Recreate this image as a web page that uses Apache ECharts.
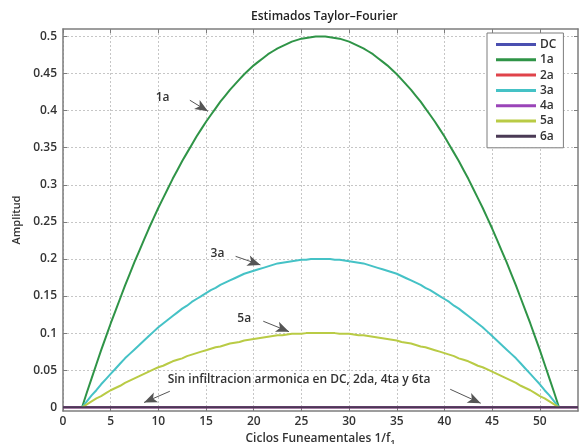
<!DOCTYPE html>
<html>
<head>
<meta charset="utf-8">
<style>
  html, body { margin: 0; padding: 0; background: #fff; }
  #chart { width: 579px; height: 444px; }
</style>
<script src="https://cdn.jsdelivr.net/npm/echarts@6/dist/echarts.min.js"></script>
</head>
<body>
<div id="chart"></div>
<script>
// Cycles of the fundamental where the odd harmonics are estimated
const harmonicCycles = [2,2.5,3,3.5,4,4.5,5,5.5,6,6.5,7,7.5,8,8.5,9,9.5,10,10.5,11,11.5,12,12.5,13,13.5,14,14.5,
  15,15.5,16,16.5,17,17.5,18,18.5,19,19.5,20,20.5,21,21.5,22,22.5,23,23.5,24,24.5,25,25.5,26,26.5,27,
  27.5,28,28.5,29,29.5,30,30.5,31,31.5,32,32.5,33,33.5,34,34.5,35,35.5,36,36.5,37,37.5,38,38.5,39,39.5,
  40,40.5,41,41.5,42,42.5,43,43.5,44,44.5,45,45.5,46,46.5,47,47.5,48,48.5,49,49.5,50,50.5,51,51.5,52];

// Cycles spanned by the components that stay at zero
const zeroCycles = [0, 54];

const ampDC = [0, 0];
const amp2a = [0, 0];
const amp4a = [0, 0];
const amp6a = [0, 0];

const amp1a = [0,0.020,0.039,0.058,0.077,0.095,0.113,0.130,0.147,0.164,0.180,0.196,0.211,0.226,0.241,0.255,0.269,0.282,0.295,0.308,
  0.320,0.332,0.343,0.354,0.365,0.375,0.385,0.394,0.403,0.412,0.420,0.428,0.435,0.442,0.449,0.455,0.461,0.466,0.471,0.476,
  0.480,0.484,0.487,0.490,0.493,0.495,0.497,0.498,0.499,0.500,0.500,
  0.500,0.499,0.498,0.497,0.495,0.493,0.490,0.487,0.484,0.480,0.476,0.471,0.466,0.461,0.455,0.449,0.442,0.435,0.428,0.420,
  0.412,0.403,0.394,0.385,0.375,0.365,0.354,0.343,0.332,0.320,0.308,0.295,0.282,0.269,0.255,0.241,0.226,0.211,0.196,0.180,
  0.164,0.147,0.130,0.113,0.095,0.077,0.058,0.039,0.020,0];

const amp3a = [0,0.008,0.016,0.023,0.031,0.038,0.045,0.052,0.059,0.066,0.072,0.078,0.084,0.090,0.096,0.102,0.108,0.113,0.118,0.123,
  0.128,0.133,0.137,0.142,0.146,0.150,0.154,0.158,0.161,0.165,0.168,0.171,0.174,0.177,0.180,0.182,0.184,0.186,0.188,0.190,
  0.192,0.194,0.195,0.196,0.197,0.198,0.199,0.199,0.200,0.200,0.200,
  0.200,0.200,0.199,0.199,0.198,0.197,0.196,0.195,0.194,0.192,0.190,0.188,0.186,0.184,0.182,0.180,0.177,0.174,0.171,0.168,
  0.165,0.161,0.158,0.154,0.150,0.146,0.142,0.137,0.133,0.128,0.123,0.118,0.113,0.108,0.102,0.096,0.090,0.084,0.078,0.072,
  0.066,0.059,0.052,0.045,0.038,0.031,0.023,0.016,0.008,0];

const amp5a = [0,0.004,0.008,0.012,0.015,0.019,0.023,0.026,0.029,0.033,0.036,0.039,0.042,0.045,0.048,0.051,0.054,0.056,0.059,0.062,
  0.064,0.066,0.069,0.071,0.073,0.075,0.077,0.079,0.081,0.082,0.084,0.086,0.087,0.088,0.090,0.091,0.092,0.093,0.094,0.095,
  0.096,0.097,0.097,0.098,0.099,0.099,0.099,0.100,0.100,0.100,0.100,
  0.100,0.100,0.100,0.099,0.099,0.099,0.098,0.097,0.097,0.096,0.095,0.094,0.093,0.092,0.091,0.090,0.088,0.087,0.086,0.084,
  0.082,0.081,0.079,0.077,0.075,0.073,0.071,0.069,0.066,0.064,0.062,0.059,0.056,0.054,0.051,0.048,0.045,0.042,0.039,0.036,
  0.033,0.029,0.026,0.023,0.019,0.015,0.012,0.008,0.004,0];

const seriesNames = ['DC', '1a', '2a', '3a', '4a', '5a', '6a'];
const seriesX = [zeroCycles, harmonicCycles, zeroCycles, harmonicCycles, zeroCycles, harmonicCycles, zeroCycles];
const seriesValues = [ampDC, amp1a, amp2a, amp3a, amp4a, amp5a, amp6a];
const seriesColors = ['#4a4fb0', '#2f9447', '#e0434a', '#45c2c6', '#9a44b8', '#b9cb45', '#4a3a55'];

const xTicks = [0, 5, 10, 15, 20, 25, 30, 35, 40, 45, 50];
const yTicks = [0, 0.05, 0.1, 0.15, 0.2, 0.25, 0.3, 0.35, 0.4, 0.45, 0.5];

const FONT = '"Open Sans", "Noto Sans", sans-serif';
const axisGray = '#7d7d7d';
const gridStyle = { color: '#c6c6c6', type: [2, 2], width: 1 };

const chart = echarts.init(document.getElementById('chart'), null, { renderer: 'canvas' });

const lineSeries = seriesNames.map((name, i) => ({
  name: name,
  type: 'line',
  xAxisIndex: 0,
  yAxisIndex: 0,
  data: seriesX[i].map((c, k) => [c, seriesValues[i][k]]),
  showSymbol: false,
  symbol: 'none',
  smooth: false,
  lineStyle: { width: 2, color: seriesColors[i] },
  itemStyle: { color: seriesColors[i] },
  z: 3,
  silent: true,
  animation: false
}));

const arrowLine = { color: '#555', width: 1, type: 'solid' };
const annoLabel = { show: true, fontFamily: FONT, fontSize: 12, fontWeight: 600, color: '#333' };

// Helper series holding the annotation arrows and texts
lineSeries.push({
  name: 'notes',
  type: 'line',
  data: [],
  silent: true,
  animation: false,
  markLine: {
    silent: true,
    animation: false,
    symbol: ['none', 'arrow'],
    symbolSize: [8, 13],
    label: { show: false },
    lineStyle: arrowLine,
    itemStyle: { color: '#111' },
    emphasis: { disabled: true },
    data: [
      [{ coord: [13.3, 0.414] }, { coord: [15.2, 0.399] }],
      [{ coord: [18.1, 0.2035] }, { coord: [20.7, 0.192] }],
      [{ coord: [21.0, 0.116] }, { coord: [23.7, 0.102] }],
      [{ coord: [11.2, 0.0216] }, { coord: [8.5, 0.0065] }],
      [{ coord: [40.6, 0.0243] }, { coord: [43.8, 0.0055] }]
    ]
  },
  markPoint: {
    silent: true,
    animation: false,
    symbol: 'circle',
    symbolSize: 1,
    itemStyle: { color: 'rgba(0,0,0,0)' },
    label: Object.assign({ position: 'inside' }, annoLabel),
    data: [
      { coord: [10.45, 0.418], label: Object.assign({ formatter: '1a' }, annoLabel) },
      { coord: [16.2, 0.2075], label: Object.assign({ formatter: '3a' }, annoLabel) },
      { coord: [19.0, 0.12], label: Object.assign({ formatter: '5a' }, annoLabel) },
      { coord: [24.75, 0.0375], label: Object.assign({ formatter: 'Sin infiltracion armonica en DC, 2da, 4ta y 6ta' }, annoLabel) }
    ]
  }
});

chart.setOption({
  animation: false,
  backgroundColor: '#ffffff',
  title: {
    text: 'Estimados Taylor\u2013Fourier',
    left: 246,
    top: 6,
    textStyle: { fontFamily: FONT, fontSize: 12, fontWeight: 600, color: '#222' }
  },
  grid: { left: 63, top: 29, right: 1, bottom: 33, containLabel: false, outerBoundsMode: 'none' },
  legend: {
    orient: 'vertical',
    left: 487,
    top: 33,
    padding: [4, 7, 4, 9],
    itemGap: 0.3,
    itemWidth: 40,
    itemHeight: 3,
    icon: 'rect',
    backgroundColor: '#ffffff',
    borderColor: '#7d7d7d',
    borderWidth: 1,
    borderRadius: 0,
    data: seriesNames,
    textStyle: { fontFamily: FONT, fontSize: 12, fontWeight: 600, color: '#333', lineHeight: 15, padding: [0, 0, 0, -1] },
    selectedMode: false
  },
  xAxis: [
    {
      type: 'value',
      min: 0,
      max: 54,
      position: 'bottom',
      name: 'Ciclos Funeamentales 1/f{sub|1}',
      nameLocation: 'middle',
      nameGap: 19,
      nameTextStyle: {
        fontFamily: FONT, fontSize: 12, fontWeight: 600, color: '#333',
        rich: { sub: { fontFamily: FONT, fontSize: 9, fontWeight: 600, color: '#333', padding: [9, 0, 0, 0] } }
      },
      axisLine: { show: true, onZero: false, lineStyle: { color: axisGray, width: 1.5 } },
      axisTick: { show: true, inside: true, length: 4, customValues: xTicks, lineStyle: { color: axisGray } },
      axisLabel: { customValues: xTicks, margin: 5, fontFamily: FONT, fontSize: 12, fontWeight: 600, color: '#333' },
      splitLine: { show: true, lineStyle: gridStyle }
    },
    {
      type: 'value',
      min: 0,
      max: 54,
      position: 'top',
      axisLine: { show: true, onZero: false, lineStyle: { color: axisGray, width: 1.5 } },
      axisTick: { show: true, inside: true, length: 4, customValues: xTicks, lineStyle: { color: axisGray } },
      axisLabel: { show: false },
      splitLine: { show: false }
    }
  ],
  yAxis: [
    {
      type: 'value',
      min: -0.005,
      max: 0.51,
      position: 'left',
      name: 'Amplitud',
      nameLocation: 'middle',
      nameGap: 38,
      nameRotate: 90,
      nameTextStyle: { fontFamily: FONT, fontSize: 11, fontWeight: 600, color: '#333' },
      axisLine: { show: true, onZero: false, lineStyle: { color: axisGray, width: 1.5 } },
      axisTick: { show: true, inside: true, length: 4, customValues: yTicks, lineStyle: { color: axisGray } },
      axisLabel: { customValues: yTicks, margin: 6, fontFamily: FONT, fontSize: 12, fontWeight: 600, color: '#333',
        formatter: v => String(Math.round(v * 100) / 100) },
      splitLine: { show: true, lineStyle: gridStyle }
    },
    {
      type: 'value',
      min: -0.005,
      max: 0.51,
      position: 'right',
      axisLine: { show: true, onZero: false, lineStyle: { color: axisGray, width: 1.5 } },
      axisTick: { show: true, inside: true, length: 4, customValues: yTicks, lineStyle: { color: axisGray } },
      axisLabel: { show: false },
      splitLine: { show: false }
    }
  ],
  series: lineSeries
});
</script>
</body>
</html>
